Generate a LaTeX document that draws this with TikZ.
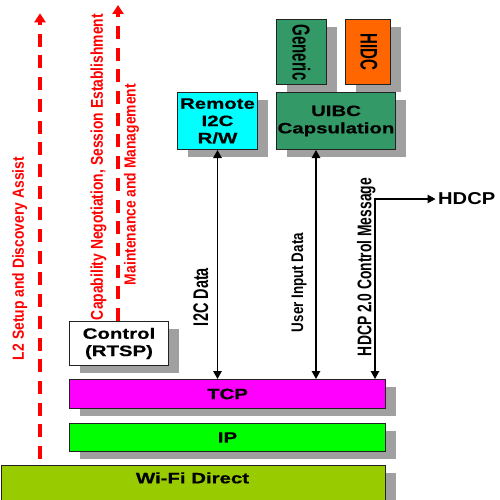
\documentclass[tikz,border=0pt]{standalone}
\usepackage{fontspec}
\setmainfont{Liberation Sans}
\newfontfamily\boxfont{Liberation Sans}[FakeStretch=1.36,FakeBold=0.6]
\usetikzlibrary{arrows.meta,shadows}
\definecolor{wific}{HTML}{99CC00}
\definecolor{ipc}{HTML}{00FF00}
\definecolor{tcpc}{HTML}{FF00FF}
\definecolor{cyanc}{HTML}{00FFFF}
\definecolor{seagreen}{HTML}{339966}
\definecolor{orangec}{HTML}{FF6600}
\definecolor{shadowc}{HTML}{A0A0A0}
\definecolor{redc}{HTML}{FF0000}
\definecolor{edgec}{HTML}{222222}
\begin{document}
\begin{tikzpicture}[x=1pt,y=-1pt,
  layerbox/.style={draw=edgec, line width=1pt, inner sep=0pt, anchor=north west,
    align=center, font=\boxfont\bfseries\fontsize{15}{17.3}\selectfont,
    drop shadow={shadow xshift=10.5pt, shadow yshift=-7.5pt, fill=shadowc, opacity=1}},
  vlab/.style={rotate=90, inner sep=0pt, font=\bfseries\fontsize{15}{18}\selectfont},
  vlabr/.style={rotate=-90, inner sep=0pt, font=\bfseries\fontsize{15}{18}\selectfont},
  dbl/.style={line width=1.3pt, {Triangle[length=8pt,width=8.5pt]}-{Triangle[length=8pt,width=8.5pt]}},
  redarr/.style={draw=redc, line width=4.5pt, dash pattern=on 13pt off 8.7pt, -{Triangle[length=9pt,width=11pt]}}
]
\useasboundingbox (0,0) rectangle (500,500);

% layers
\node[layerbox, fill=wific, minimum width=384pt, minimum height=39pt] (wifi) at (1,464.5) {};
\node[inner sep=0pt, anchor=base, font=\boxfont\bfseries\fontsize{15}{17.3}\selectfont] (wifitxt) at (192.5,483.3) {Wi-Fi Direct};
\node[layerbox, fill=ipc, minimum width=316pt, minimum height=28pt] (ip) at (69,423) {IP};
\node[layerbox, fill=tcpc, minimum width=316pt, minimum height=29pt] (tcp) at (69,379) {TCP};
\node[layerbox, fill=white, minimum width=99pt, minimum height=44pt] (control) at (69,321) {Control\\(RTSP)};
\node[layerbox, fill=cyanc, minimum width=80pt, minimum height=57pt] (remote) at (177,92) {Remote\\I2C\\R/W};
\node[layerbox, fill=seagreen, minimum width=119pt, minimum height=57pt] (uibc) at (276,92) {UIBC\\Capsulation};
\node[layerbox, fill=seagreen, minimum width=50pt, minimum height=65pt] (generic) at (276,19.5) {};
\node[layerbox, fill=orangec, minimum width=45pt, minimum height=65pt] (hidc) at (345,19.5) {};
\node[vlabr] (generictxt) at (generic.center) {\resizebox*{56pt}{18pt}{Generic}};
\node[vlabr] (hidctxt) at (369,51.7) {\resizebox*{36.7pt}{17pt}{HIDC}};

% HDCP target
\node[inner sep=0pt, anchor=west, font=\bfseries\fontsize{15}{18}\selectfont] (hdcp) at (438,199) {\resizebox{57pt}{12pt}{HDCP}};

% coordinates for connectors
\coordinate (uix) at (316,0);
\coordinate (hd) at (375,200);
\coordinate (l2bot) at (40,459);
\coordinate (l2top) at (40,13.3);
\coordinate (captop) at (118,5);

% black connectors
\draw[dbl] (remote.south) -- (remote.south |- tcp.north);
\draw[dbl] (uibc.south -| uix) -- (tcp.north -| uix);
\draw[dbl, shorten >=2.5pt] (tcp.north -| hd) |- (hdcp.west);

% red dashed arrows
\draw[redarr] (l2bot) -- (l2top);
\draw[redarr] (control.north -| captop) -- (captop);

% labels
\node[vlab, text=redc] (l2lab) at (19.8,258.5) {\resizebox*{203pt}{15pt}{L2 Setup and Discovery Assist}};
\node[vlab, text=redc] (caplab) at (98.5,167) {\resizebox*{306pt}{16pt}{Capability Negotiation, Session Establishment}};
\node[vlab, text=redc] (mainlab) at (131.5,184.5) {\resizebox*{201pt}{15pt}{Maintenance and Management}};
\node[vlab] (i2clab) at (200.8,297) {\resizebox*{58pt}{15pt}{I2C Data}};
\node[vlab] (uilab) at (299.2,282.5) {\resizebox*{99pt}{15pt}{User Input Data}};
\node[vlab] (hdcplab) at (366.3,267) {\resizebox*{178pt}{18.5pt}{HDCP 2.0 Control Message}};
\end{tikzpicture}
\end{document}
